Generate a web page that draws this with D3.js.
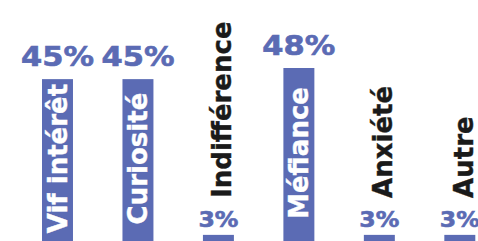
<!DOCTYPE html>
<html>
<head>
<meta charset="utf-8">
<script src="https://cdn.jsdelivr.net/npm/d3@7"></script>
<style>
  html, body { margin: 0; padding: 0; background: #fff; }
  svg { display: block; }
  text { font-family: "DejaVu Sans", Verdana, sans-serif; font-weight: bold; }
</style>
</head>
<body>
<div id="chart"></div>
<script>
// Data
const categories = ["Vif intérêt", "Curiosité", "Indifférence", "Méfiance", "Anxiété", "Autre"];
const values = [45, 45, 3, 48, 3, 3];

const width = 478;
const height = 241;
const blue = "#5b6bb4";

const data = categories.map((c, i) => ({ cat: c, val: values[i] }));

const svg = d3.select("#chart")
    .append("svg")
    .attr("width", width)
    .attr("height", height);

// Scales (baseline sits just below the visible area)
const x = d3.scaleBand()
    .domain(categories)
    .range([42, 475.3])
    .paddingInner(0.615)
    .paddingOuter(0);

const y = d3.scaleLinear()
    .domain([0, 48])
    .range([246, 68]);

// Bars
svg.selectAll("rect.bar")
    .data(data)
    .join("rect")
    .attr("class", "bar")
    .attr("x", d => x(d.cat))
    .attr("y", d => y(d.val))
    .attr("width", x.bandwidth())
    .attr("height", d => y(0) - y(d.val))
    .attr("fill", blue);

// Percent labels above bars
const big = d => d.val > 10;
svg.selectAll("text.pct")
    .data(data)
    .join("text")
    .attr("class", "pct")
    .attr("x", d => x(d.cat) + x.bandwidth() / 2)
    .attr("y", d => y(d.val) - (big(d) ? 13 : 8))
    .attr("text-anchor", "middle")
    .attr("fill", blue)
    .attr("stroke", blue)
    .attr("stroke-width", 0.6)
    .style("font-size", d => big(d) ? "26px" : "20.5px")
    .attr("textLength", d => big(d) ? 73 : 40)
    .attr("lengthAdjust", "spacingAndGlyphs")
    .text(d => d.val + "%");

// Category labels, rotated: inside tall bars (white), above short bars (black)
svg.selectAll("text.cat")
    .data(data)
    .join("text")
    .attr("class", "cat")
    .attr("transform", d => {
        const cx = x(d.cat) + x.bandwidth() / 2 + (big(d) ? 9.5 : 13);
        const cy = big(d) ? (y(d.val) + y(0)) / 2 - 4 : y(d.val) - 37;
        return `translate(${cx},${cy}) rotate(-90)`;
    })
    .attr("text-anchor", d => big(d) ? "middle" : "start")
    .attr("fill", d => big(d) ? "#fff" : "#1a1a1a")
    .attr("stroke", d => big(d) ? "#fff" : "#1a1a1a")
    .attr("stroke-width", 0.4)
    .style("font-size", "26px")
    .text(d => d.cat);
</script>
</body>
</html>
